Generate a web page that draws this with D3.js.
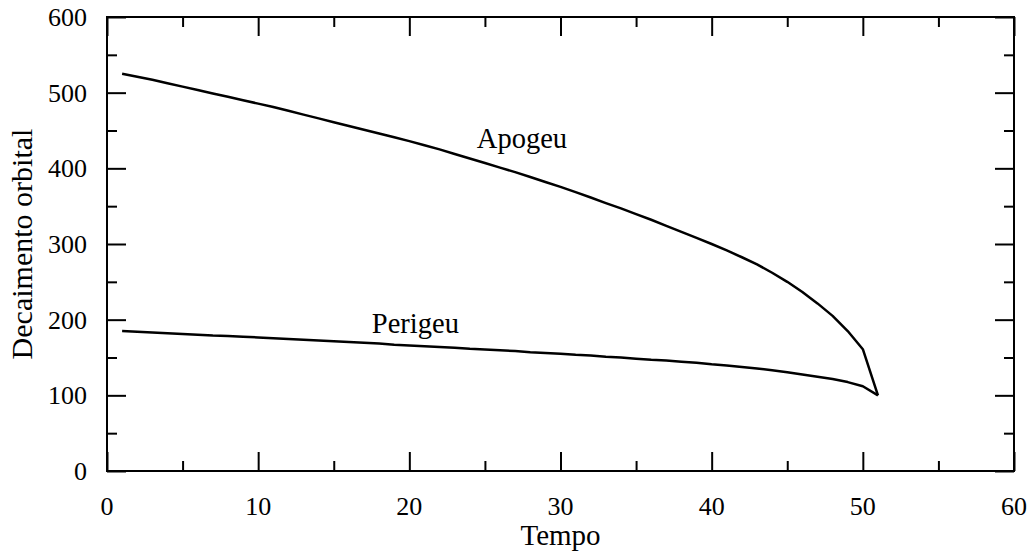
<!DOCTYPE html>
<html>
<head>
<meta charset="utf-8">
<script src="https://cdn.jsdelivr.net/npm/d3@7"></script>
<style>
  body { margin: 0; background: #fff; }
  svg { display: block; }
</style>
</head>
<body>
<div id="chart"></div>
<script>
// orbital decay: apogee & perigee vs time
var tempo = d3.range(1, 52);
var apogeu = [525, 521, 517, 512.5, 508, 503.5, 499, 494.5, 490, 485.5,
              481, 476, 471, 466, 461, 456, 451, 446, 441, 436,
              430.5, 425, 419, 413, 407, 401, 395, 388.5, 382, 375.5,
              368.5, 361.5, 354, 347, 339.5, 332, 324, 316, 308, 300,
              291.5, 282.5, 273, 262, 250, 236.5, 221.5, 205, 185, 161,
              100];
var perigeu = [185, 184, 183, 182, 181, 180, 179, 178.5, 177.5, 176.5,
               175.5, 174.5, 173.5, 172.5, 171.5, 170.5, 169.5, 168.5, 167, 166,
               165, 164, 163, 161.5, 160.5, 159.5, 158.5, 157, 156, 155,
               153.5, 152.5, 151, 150, 148.5, 147, 146, 144.5, 143, 141,
               139.5, 137.5, 135.5, 133, 130.5, 127.5, 124.5, 121.5, 117.5, 112,
               100];
var xTicks = [0, 10, 20, 30, 40, 50, 60];
var yTicks = [0, 100, 200, 300, 400, 500, 600];
var xMinor = [5, 15, 25, 35, 45, 55];
var yMinor = [50, 150, 250, 350, 450, 550];
var labels = [
    {text: 'Apogeu', t: 27.45, v: 427},
    {text: 'Perigeu', t: 20.4, v: 182}
];

var font = "'Liberation Serif', 'Times New Roman', Times, serif";
var width = 1033, height = 551;
var margin = {top: 17, right: 19, bottom: 80, left: 107};
var w = width - margin.left - margin.right;
var h = height - margin.top - margin.bottom;

var svg = d3.select('#chart').append('svg')
    .attr('width', width)
    .attr('height', height)
    .attr('font-family', font);
var g = svg.append('g')
    .attr('transform', 'translate(' + margin.left + ',' + margin.top + ')');

var x = d3.scaleLinear().domain([0, 60]).range([0, w]);
var y = d3.scaleLinear().domain([0, 600]).range([h, 0]);

function styleAxis(sel) {
    sel.select('.domain').remove();
    sel.selectAll('line').attr('stroke', '#000').attr('stroke-width', 2);
}

// major + minor ticks on all four sides, pointing inward
g.append('g').attr('transform', 'translate(0,' + h + ')')
    .call(d3.axisBottom(x).tickValues(xTicks).tickSize(-19).tickFormat(''))
    .call(styleAxis);
g.append('g').attr('transform', 'translate(0,' + h + ')')
    .call(d3.axisBottom(x).tickValues(xMinor).tickSize(-10).tickFormat(''))
    .call(styleAxis);
g.append('g')
    .call(d3.axisTop(x).tickValues(xTicks).tickSize(-19).tickFormat(''))
    .call(styleAxis);
g.append('g')
    .call(d3.axisTop(x).tickValues(xMinor).tickSize(-10).tickFormat(''))
    .call(styleAxis);
g.append('g')
    .call(d3.axisLeft(y).tickValues(yTicks).tickSize(-19).tickFormat(''))
    .call(styleAxis);
g.append('g')
    .call(d3.axisLeft(y).tickValues(yMinor).tickSize(-10).tickFormat(''))
    .call(styleAxis);
g.append('g').attr('transform', 'translate(' + w + ',0)')
    .call(d3.axisRight(y).tickValues(yTicks).tickSize(-19).tickFormat(''))
    .call(styleAxis);
g.append('g').attr('transform', 'translate(' + w + ',0)')
    .call(d3.axisRight(y).tickValues(yMinor).tickSize(-10).tickFormat(''))
    .call(styleAxis);

// tick labels
g.selectAll('.xlab').data(xTicks).enter().append('text')
    .attr('class', 'xlab')
    .attr('x', function(d) { return x(d); })
    .attr('y', h + 44)
    .attr('text-anchor', 'middle')
    .attr('font-size', 26)
    .text(function(d) { return d; });
g.selectAll('.ylab').data(yTicks).enter().append('text')
    .attr('class', 'ylab')
    .attr('x', -20)
    .attr('y', function(d) { return y(d) + 9; })
    .attr('text-anchor', 'end')
    .attr('font-size', 26)
    .text(function(d) { return d; });

// frame
g.append('rect')
    .attr('width', w).attr('height', h)
    .attr('fill', 'none').attr('stroke', '#000').attr('stroke-width', 2);

// curves
var line = d3.line()
    .x(function(d) { return x(d[0]); })
    .y(function(d) { return y(d[1]); });
[apogeu, perigeu].forEach(function(s) {
    g.append('path')
        .datum(d3.zip(tempo, s))
        .attr('d', line)
        .attr('fill', 'none')
        .attr('stroke', '#000')
        .attr('stroke-width', 2.5)
        .attr('stroke-linejoin', 'round');
});

g.selectAll('.lbl').data(labels).enter().append('text')
    .attr('class', 'lbl')
    .attr('x', function(d) { return x(d.t); })
    .attr('y', function(d) { return y(d.v); })
    .attr('text-anchor', 'middle')
    .attr('font-size', 28.5)
    .text(function(d) { return d.text; });

// axis titles
svg.append('text')
    .attr('x', margin.left + w / 2)
    .attr('y', 545)
    .attr('text-anchor', 'middle')
    .attr('font-size', 29)
    .text('Tempo');
svg.append('text')
    .attr('transform', 'translate(32,' + (margin.top + h / 2) + ') rotate(-90)')
    .attr('text-anchor', 'middle')
    .attr('font-size', 30)
    .text('Decaimento orbital');
</script>
</body>
</html>
